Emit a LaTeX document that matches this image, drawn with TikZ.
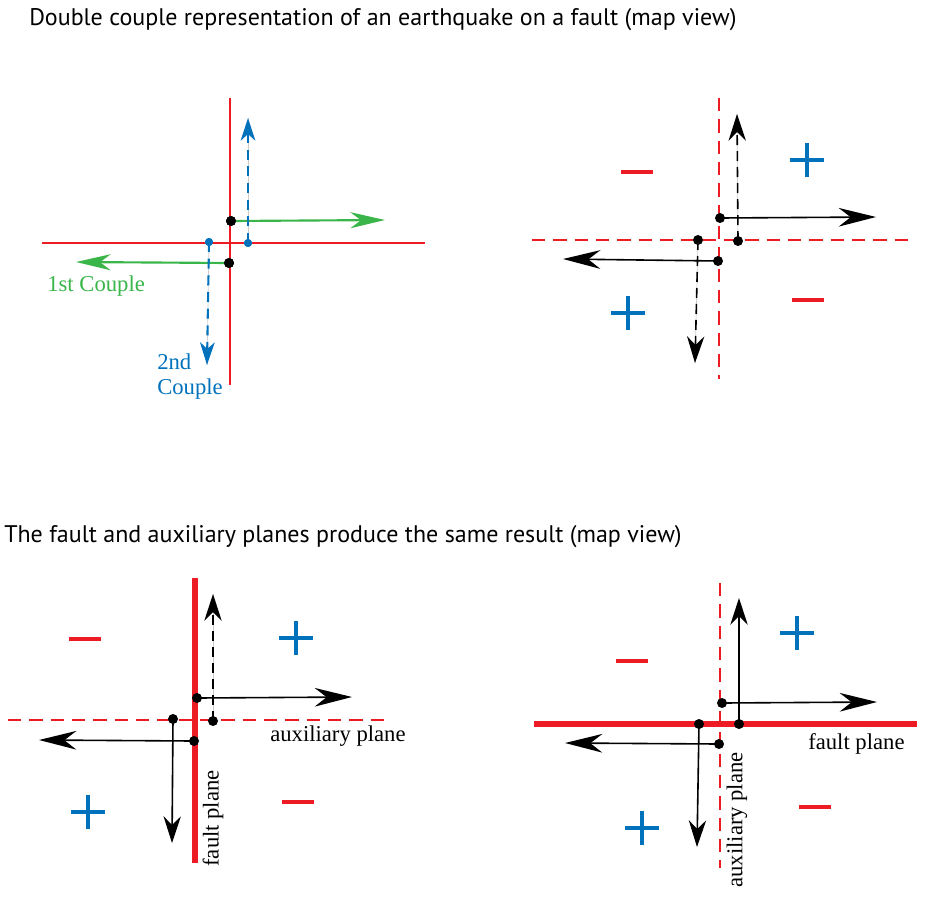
\documentclass[tikz,border=0pt]{standalone}
\usepackage{fontspec}
\setmainfont{Liberation Serif}
\newfontfamily\titlefont{PT Sans}
\usetikzlibrary{arrows.meta}
\definecolor{fred}{RGB}{237,28,36}
\definecolor{fgreen}{RGB}{57,181,74}
\definecolor{fblue}{RGB}{0,114,188}
\tikzset{
  titletext/.style={font=\titlefont\fontsize{18pt}{21pt}\selectfont, anchor=west, inner sep=0pt},
  labeltext/.style={font=\fontsize{17pt}{19pt}\selectfont, inner sep=0pt},
  thinred/.style={fred, line width=1.5pt},
  dashred/.style={fred, line width=1.5pt, dash pattern=on 10pt off 6pt},
  thickred/.style={fred, line width=4.5pt},
  hhead/.style={-{Stealth[length=28pt,width=14pt,inset=9pt]}},
  vhead/.style={-{Stealth[length=20pt,width=13pt,inset=6.5pt]}},
  blackarrow/.style={black, line width=1.2pt},
  blackdash/.style={black, line width=1.2pt, dash pattern=on 7.5pt off 4.5pt},
  greenarrow/.style={fgreen, line width=1.6pt, -{Stealth[length=26pt,width=12pt,inset=8pt]}},
  bluedash/.style={fblue, line width=1.6pt, dash pattern=on 7.5pt off 5pt, -{Stealth[length=17pt,width=11pt,inset=5pt]}},
  guide/.style={black!20, line width=0.5pt},
  bdot/.style={circle, fill=black, inner sep=0pt, minimum size=7.5pt},
  bludot/.style={circle, fill=fblue, inner sep=0pt, minimum size=6pt},
  plussign/.style={fblue, line width=3.6pt},
  minussign/.style={fred, line width=3.6pt},
}
\newcommand{\plusat}[2]{\draw[plussign] (#1-17,#2) -- (#1+17,#2) (#1,#2-17) -- (#1,#2+17);}
\newcommand{\minusat}[2]{\draw[minussign] (#1-16,#2) -- (#1+16,#2);}
\begin{document}
\begin{tikzpicture}[x=0.75pt,y=-0.75pt]
\useasboundingbox (0,0) rectangle (952,900);

% Titles
\node[titletext] (t1) at (29,20) {Double couple representation of an earthquake on a fault (map view)};
\node[titletext] (t2) at (4,537) {The fault and auxiliary planes produce the same result (map view)};

% ---------------- Top-left ----------------
\coordinate (a1) at (229.5,98); \coordinate (a2) at (229.5,385);
\coordinate (a3) at (42,242.5); \coordinate (a4) at (425,242.5);
\draw[thinred] (a1) -- (a2);
\draw[thinred] (a3) -- (a4);
\node[bdot] (A1) at (231,221) {};
\node[bdot] (A2) at (229,263) {};
\node[bludot] (A3) at (248,243) {};
\node[bludot] (A4) at (209,242) {};
\coordinate (A1e) at (385,220);
\coordinate (A2e) at (76,262);
\coordinate (A3e) at (248,118);
\coordinate (A4e) at (207,365);
\draw[guide] (A3.center) -- (A3e);
\draw[guide] (A4.center) -- (A4e);
\draw[greenarrow] (A1.center) -- (A1e);
\draw[greenarrow] (A2.center) -- (A2e);
\draw[bluedash] (A3.center) -- (A3e);
\draw[bluedash] (A4.center) -- (A4e);
\node[bdot] at (A1) {};
\node[bdot] at (A2) {};
\node[bludot] at (A3) {};
\node[bludot] at (A4) {};
\node[labeltext, text=fgreen, anchor=west] (l1) at (47,286) {1st Couple};
\node[labeltext, text=fblue, anchor=north west, align=left] (l2) at (157,353) {2nd\\Couple};

% ---------------- Top-right ----------------
\coordinate (b1) at (719,98); \coordinate (b2) at (719,379);
\coordinate (b3) at (532,240); \coordinate (b4) at (915,240);
\draw[dashred] (b1) -- (b2);
\draw[dashred] (b3) -- (b4);
\node[bdot] (B1) at (720,218) {};
\node[bdot] (B2) at (718,261) {};
\node[bdot] (B3) at (738,241) {};
\node[bdot] (B4) at (698,240) {};
\coordinate (B1e) at (876,217);
\coordinate (B2e) at (563,259);
\coordinate (B3e) at (737,114);
\coordinate (B4e) at (695,363);
\draw[guide] (B3.center) -- (B3e);
\draw[guide] (B4.center) -- (B4e);
\draw[blackarrow,hhead] (B1.center) -- (B1e);
\draw[blackarrow,hhead] (B2.center) -- (B2e);
\draw[blackdash,vhead] (B3.center) -- (B3e);
\draw[blackdash,vhead] (B4.center) -- (B4e);
\minusat{637}{172}
\plusat{807}{160}
\plusat{628}{313}
\minusat{808}{300}

% ---------------- Bottom-left ----------------
\coordinate (c1) at (195,578); \coordinate (c2) at (195,863);
\coordinate (c3) at (8,720); \coordinate (c4) at (392,720);
\draw[dashred] (c3) -- (c4);
\draw[thickred] (c1) -- (c2);
\node[bdot] (C1) at (197,698) {};
\node[bdot] (C2) at (194,741) {};
\node[bdot] (C3) at (213,721) {};
\node[bdot] (C4) at (173,719) {};
\coordinate (C1e) at (352,697);
\coordinate (C2e) at (39,740);
\coordinate (C3e) at (213,594);
\coordinate (C4e) at (172,843);
\draw[guide] (C3.center) -- (C3e);
\draw[blackarrow,hhead] (C1.center) -- (C1e);
\draw[blackarrow,hhead] (C2.center) -- (C2e);
\draw[blackdash,vhead] (C3.center) -- (C3e);
\draw[blackarrow,vhead] (C4.center) -- (C4e);
\minusat{85}{639}
\plusat{296}{638}
\plusat{88}{812}
\minusat{298}{802}
\node[labeltext, anchor=west] (l3) at (270,736) {auxiliary plane};
\node[labeltext, rotate=90, anchor=east] (l4) at (213,770) {fault plane};

% ---------------- Bottom-right ----------------
\coordinate (d1) at (720,583); \coordinate (d2) at (720,868);
\coordinate (d3) at (534,724); \coordinate (d4) at (917,724);
\draw[dashred] (d1) -- (d2);
\draw[thickred] (d3) -- (d4);
\node[bdot] (D1) at (722,703) {};
\node[bdot] (D2) at (719,744) {};
\node[bdot] (D3) at (739,724) {};
\node[bdot] (D4) at (699,724) {};
\coordinate (D1e) at (877,702);
\coordinate (D2e) at (565,743);
\coordinate (D3e) at (739,598);
\coordinate (D4e) at (697,847);
\draw[blackarrow,hhead] (D1.center) -- (D1e);
\draw[blackarrow,hhead] (D2.center) -- (D2e);
\draw[blackarrow,vhead] (D3.center) -- (D3e);
\draw[blackarrow,vhead] (D4.center) -- (D4e);
\minusat{632}{661}
\plusat{797}{633}
\plusat{642}{828}
\minusat{815}{807}
\node[labeltext, anchor=west] (l5) at (808,744) {fault plane};
\node[labeltext, rotate=90, anchor=east] (l6) at (737,752) {auxiliary plane};
\end{tikzpicture}
\end{document}
